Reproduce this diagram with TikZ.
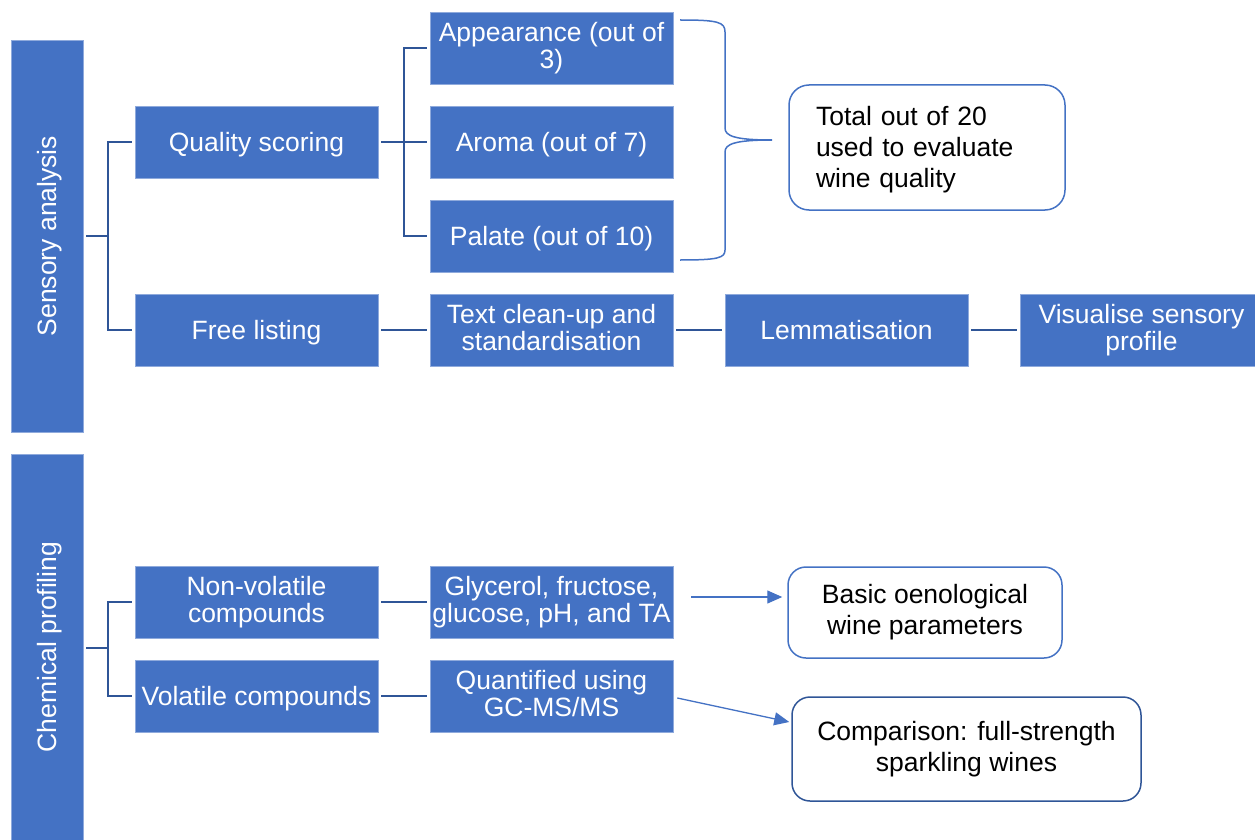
\documentclass[tikz,border=0pt]{standalone}
\usepackage{fontspec}
\setmainfont{Liberation Sans}
\usepackage{tikz}
\usetikzlibrary{arrows.meta, positioning, calc}
\definecolor{boxblue}{HTML}{4472C4}
\definecolor{lineblue}{HTML}{2F5597}
\definecolor{edgeblue}{HTML}{8FAADC}
\newcommand\lnstrut{\rule[-0.212em]{0pt}{1.117em}}

\begin{document}
\begin{tikzpicture}[
    x=1pt, y=-1pt,
    every node/.style={font=\fontsize{26.5}{27}\selectfont},
    bar/.style={fill=boxblue, draw=edgeblue, line width=0.6pt, text=white,
                minimum width=72pt, inner sep=0pt},
    blk/.style={fill=boxblue, draw=edgeblue, line width=0.6pt, text=white,
                minimum width=243pt, minimum height=72pt, inner sep=1pt, align=center,
                execute at begin node=\lnstrut, execute at end node=\lnstrut},
    note/.style={draw=boxblue, line width=1.5pt, rounded corners=18pt, fill=white,
                 align=center, font=\fontsize{26.5}{31}\selectfont,
                 execute at begin node=\lnstrut, execute at end node=\lnstrut},
    link/.style={draw=lineblue, line width=2.2pt},
    arr/.style={draw=boxblue, line width=1.3pt, -{Triangle[length=15pt,width=13pt]}},
]
    \useasboundingbox (0,0) rectangle (1255,840);

    % Side bars
    \node[bar, minimum height=392pt] (sens) at (47,236) {\rotatebox{90}{\lnstrut Sensory analysis}};
    \node[bar, minimum height=386pt] (chem) at (47,647) {\rotatebox{90}{\lnstrut Chemical profiling}};

    % Sensory branch
    \node[blk] (qual) at (256.5,142) {Quality scoring};
    \node[blk] (free) at (256.5,330) {Free listing};
    \node[blk] (appr) at (551.5,48)  {Appearance (out of\\3)};
    \node[blk] (arom) at (551.5,142) {Aroma (out of 7)};
    \node[blk] (pal)  at (551.5,236) {Palate (out of 10)};
    \node[blk] (clean) at (551.5,330) {Text clean-up and\\standardisation};
    \node[blk] (lem)  at (846.5,330) {Lemmatisation};
    \node[blk] (vis)  at (1141.5,330) {Visualise sensory\\profile};
    \node[note, rounded corners=20pt, text width=222pt, inner xsep=27pt,
          minimum height=125pt, align=left] (tot) at (927,147.5)
          {Total out of 20\\used to evaluate\\wine quality};

    % Chemical branch
    \node[blk] (nonv) at (256.5,602) {Non-volatile\\compounds};
    \node[blk] (vol)  at (256.5,696) {Volatile compounds};
    \node[blk] (glyc) at (551.5,602) {Glycerol, fructose,\\glucose, pH, and TA};
    \node[blk] (quant) at (551.5,696) {Quantified using\\GC-MS/MS};
    \node[note, minimum width=274pt, minimum height=91pt] (basic) at (925,612.5)
          {Basic oenological\\wine parameters};
    \node[note, draw=lineblue, minimum width=349pt, minimum height=104pt] (comp) at (966.5,749)
          {Comparison: full-strength\\sparkling wines};

    % Tree connectors
    \coordinate (sj) at (108,236);
    \coordinate (qj) at (404,142);
    \coordinate (cj) at (108,648);
    \draw[link] ([xshift=3pt]sens.east) -- (sj);
    \draw[link] ([xshift=-3pt]qual.west) -| (sj) |- ([xshift=-3pt]free.west);
    \draw[link] ([xshift=3pt]qual.east) -- ([xshift=-3pt]arom.west);
    \draw[link] ([xshift=-3pt]appr.west) -| (qj) |- ([xshift=-3pt]pal.west);
    \draw[link] ([xshift=3pt]free.east) -- ([xshift=-3pt]clean.west);
    \draw[link] ([xshift=3pt]clean.east) -- ([xshift=-3pt]lem.west);
    \draw[link] ([xshift=3pt]lem.east) -- ([xshift=-3pt]vis.west);
    \draw[link] ([xshift=3pt,yshift=-1pt]chem.east) -- (cj);
    \draw[link] ([xshift=-3pt]nonv.west) -| (cj) |- ([xshift=-3pt]vol.west);
    \draw[link] ([xshift=3pt]nonv.east) -- ([xshift=-3pt]glyc.west);
    \draw[link] ([xshift=3pt]vol.east) -- ([xshift=-3pt]quant.west);

    % Brace to total
    \draw[draw=boxblue, line width=1.5pt]
        (680,20) .. controls (718,20) and (725,22) .. (725,32) -- (725,128)
        .. controls (725,136) and (735,140) .. (772,140)
        .. controls (735,140) and (725,144) .. (725,152) -- (725,250)
        .. controls (725,258) and (718,260) .. (680,260);

    % Arrows
    \draw[arr] ([xshift=18pt,yshift=5pt]glyc.east) -- ([xshift=-5pt,yshift=15.5pt]basic.west);
    \draw[arr] ([xshift=4pt,yshift=-2pt]quant.east) -- ([xshift=-2pt,yshift=27pt]comp.west);
\end{tikzpicture}
\end{document}
